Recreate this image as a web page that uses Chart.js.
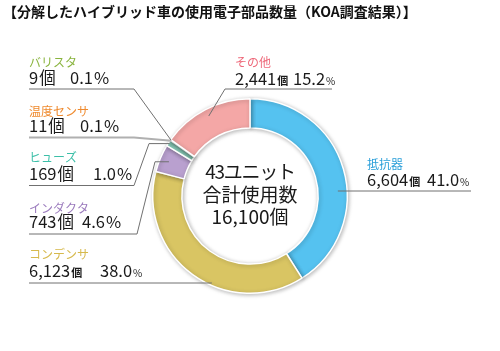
<!DOCTYPE html>
<html>
<head>
<meta charset="utf-8">
<script src="https://cdn.jsdelivr.net/npm/chart.js@4.4.0/dist/chart.umd.min.js"></script>
<style>
  body { margin: 0; background: #fff; }
  canvas { display: block; }
</style>
</head>
<body>
<canvas id="parts" width="500" height="351"></canvas>
<script>
const title = '【分解したハイブリッド車の使用電子部品数量（KOA調査結果）】';
const labels = ['抵抗器', 'コンデンサ', 'インダクタ', 'ヒューズ', '温度センサ', 'バリスタ', 'その他'];
const counts = [6604, 6123, 743, 169, 11, 9, 2441];
const centerLines = ['43ユニット', '合計使用数', '16,100個'];

const sliceColors = ['#55c2f0', '#d9c563', '#b9a0cf', '#8fd3bf', '#f6d2a8', '#e4efc8', '#f4a7a6'];
const textColors = ['#2a9fd9', '#d6b94c', '#9b7bbd', '#3cbfa8', '#ef8a2e', '#8ab43f', '#ee6a7b'];

const total = counts.reduce((a, b) => a + b, 0);
const FONT = "'Noto Sans CJK JP', 'Noto Sans', sans-serif";

// where each label sits and how its leader line runs to the slice
const layout = [
  { x: 367, nameY: 164, valY: 180, lineY: 191, pctX: 427, big: true, lineEnd: 471, leader: 'ringRight', r: 88 },
  { x: 29, nameY: 254, valY: 271, lineY: 283, pctX: 100, big: true, leader: 'ringLeft', r: 95 },
  { x: 29, nameY: 208, valY: 222, lineY: 234, lineEnd: 137, pctX: 82, leader: 'elbow', elbowX: 155, r: 88 },
  { x: 29, nameY: 157, valY: 174, lineY: 185.5, lineEnd: 134, pctX: 93, leader: 'elbow', elbowX: 149, r: 96 },
  { x: 29, nameY: 111, valY: 126, lineY: 137.5, lineEnd: 134, pctX: 80, leader: 'straight', r: 96, light: true },
  { x: 29, nameY: 62, valY: 78, lineY: 89, lineEnd: 134, pctX: 70, leader: 'straight', r: 97 },
  { x: 235, nameY: 62, valY: 79, lineY: 89, lineStart: 225, lineEnd: 332, pctX: 293, big: true, leader: 'fromStart', r: 90 }
];

const shadowPlugin = {
  id: 'ringShadow',
  beforeDatasetsDraw(chart) {
    const ctx = chart.ctx;
    ctx.save();
    ctx.shadowColor = 'rgba(0,0,0,0.28)';
    ctx.shadowBlur = 4;
    ctx.shadowOffsetX = 1;
    ctx.shadowOffsetY = 1;
  },
  afterDatasetsDraw(chart) {
    chart.ctx.restore();
  }
};

const labelPlugin = {
  id: 'partLabels',
  afterDraw(chart) {
    const ctx = chart.ctx;
    const arcs = chart.getDatasetMeta(0).data;
    const cx = arcs[0].x, cy = arcs[0].y;

    ctx.save();
    // title
    ctx.fillStyle = '#111';
    ctx.font = 'bold 14px ' + FONT;
    ctx.textBaseline = 'middle';
    ctx.fillText(title, 3, 12);

    // center text
    ctx.textAlign = 'center';
    ctx.font = '19px ' + FONT;
    ctx.fillStyle = '#1a1a1a';
    centerLines.forEach((t, i) => {
      ctx.letterSpacing = i === 0 ? '-1.3px' : '0px';
      ctx.fillText(t, cx, 172 + i * 22.5);
    });
    ctx.letterSpacing = '0px';
    ctx.textAlign = 'left';

    layout.forEach((L, i) => {
      const arc = arcs[i];
      const mid = (arc.startAngle + arc.endAngle) / 2;
      const pt = r => [cx + Math.cos(mid) * r, cy + Math.sin(mid) * r];

      // name
      ctx.font = '12px ' + FONT;
      ctx.fillStyle = textColors[i];
      ctx.textBaseline = 'middle';
      ctx.fillText(labels[i], L.x, L.nameY);

      // value
      ctx.textBaseline = 'alphabetic';
      ctx.fillStyle = '#1a1a1a';
      const base = L.valY + 6;
      let x = L.x;
      const num = counts[i].toLocaleString('en-US');
      const pct = (counts[i] / total * 100).toFixed(1);
      ctx.font = '16.5px ' + FONT;
      ctx.fillText(num, x, base);
      x += ctx.measureText(num).width + 1;
      if (L.big) ctx.font = 'bold 11px ' + FONT;
      ctx.fillText('個', x, base);
      ctx.font = '16.5px ' + FONT;
      ctx.fillText(pct, L.pctX, base);
      const px = L.pctX + ctx.measureText(pct).width + 1;
      if (L.big) ctx.font = '10px ' + FONT;
      ctx.fillText('%', px, base);

      // leader line
      ctx.strokeStyle = L.light ? '#b0b0b0' : '#707070';
      ctx.lineWidth = L.light ? 2 : 1;
      ctx.beginPath();
      if (L.leader === 'ringRight') {
        const dy = L.lineY - cy;
        ctx.moveTo(cx + Math.sqrt(L.r * L.r - dy * dy), L.lineY);
        ctx.lineTo(L.lineEnd, L.lineY);
      } else if (L.leader === 'ringLeft') {
        const dy = L.lineY - cy;
        ctx.moveTo(L.x, L.lineY);
        ctx.lineTo(cx - Math.sqrt(L.r * L.r - dy * dy), L.lineY);
      } else if (L.leader === 'elbow') {
        const p = pt(L.r);
        ctx.moveTo(L.x, L.lineY);
        ctx.lineTo(L.lineEnd, L.lineY);
        ctx.lineTo(L.elbowX, p[1]);
        ctx.lineTo(p[0], p[1]);
      } else if (L.leader === 'straight') {
        const p = pt(L.r);
        ctx.moveTo(L.x, L.lineY);
        ctx.lineTo(L.lineEnd, L.lineY);
        ctx.lineTo(p[0], p[1]);
      } else {
        const p = pt(L.r);
        ctx.moveTo(L.lineEnd, L.lineY);
        ctx.lineTo(L.lineStart, L.lineY);
        ctx.lineTo(p[0], p[1]);
      }
      ctx.stroke();
    });
    ctx.restore();
  }
};

new Chart('parts', {
  type: 'doughnut',
  plugins: [shadowPlugin, labelPlugin],
  data: {
    labels: labels,
    datasets: [{
      data: counts,
      backgroundColor: sliceColors,
      borderColor: '#fff',
      borderWidth: 1.5
    }]
  },
  options: {
    responsive: false,
    devicePixelRatio: 1,
    animation: false,
    cutout: '70%',
    layout: { padding: { top: 98, bottom: 57, left: 0, right: 0 } },
    plugins: {
      legend: { display: false },
      tooltip: { enabled: false }
    }
  }
});
</script>
</body>
</html>
